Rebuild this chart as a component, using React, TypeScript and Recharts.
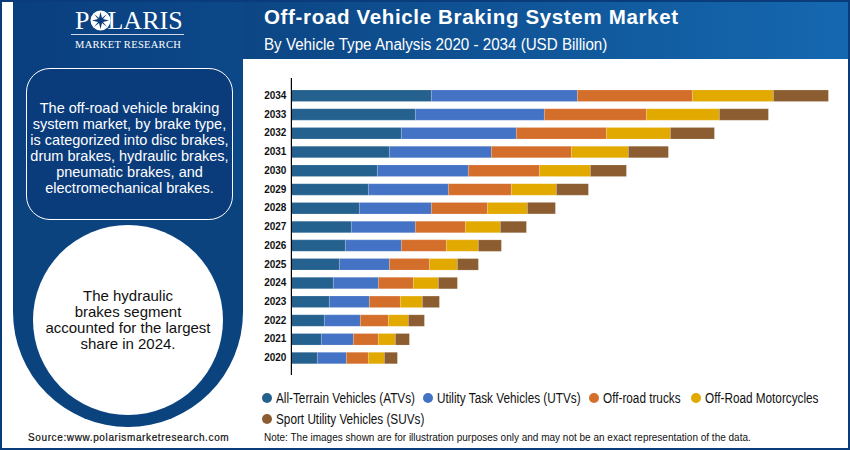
import { BarChart, Bar, XAxis, YAxis, Legend } from "recharts";

// years top to bottom, same order as the picture
const years = ["2034", "2033", "2032", "2031", "2030", "2029", "2028", "2027", "2026", "2025", "2024", "2023", "2022", "2021", "2020"];

// USD Billion (no value axis in the source)
const atvs = [1.40, 1.24, 1.10, 0.98, 0.86, 0.77, 0.68, 0.60, 0.54, 0.48, 0.42, 0.38, 0.33, 0.30, 0.26];
const utvs = [1.46, 1.29, 1.15, 1.02, 0.91, 0.80, 0.72, 0.64, 0.56, 0.50, 0.45, 0.40, 0.36, 0.32, 0.29];
const trucks = [1.15, 1.02, 0.90, 0.80, 0.71, 0.63, 0.56, 0.50, 0.45, 0.40, 0.35, 0.31, 0.28, 0.25, 0.22];
const motorcycles = [0.81, 0.73, 0.64, 0.57, 0.51, 0.45, 0.40, 0.35, 0.32, 0.28, 0.25, 0.22, 0.20, 0.17, 0.16];
const suvs = [0.55, 0.49, 0.44, 0.40, 0.36, 0.32, 0.28, 0.26, 0.23, 0.21, 0.19, 0.17, 0.16, 0.14, 0.13];

const seriesNames = ["All-Terrain Vehicles (ATVs)", "Utility Task Vehicles (UTVs)", "Off-road trucks", "Off-Road Motorcycles", "Sport Utility Vehicles (SUVs)"];
const seriesKeys = ["atvs", "utvs", "trucks", "motorcycles", "suvs"];
const seriesColors = ["#25618f", "#4472c4", "#d46e2b", "#e2a900", "#8b5d30"];

const data = years.map((year, i) => ({
  year,
  atvs: atvs[i],
  utvs: utvs[i],
  trucks: trucks[i],
  motorcycles: motorcycles[i],
  suvs: suvs[i],
}));

const NAVY = "#0a3c7c";
const SANS = "'Liberation Sans', Arial, sans-serif";
const SERIF = "'Liberation Serif', serif";

const abs = (left: number, top: number, width: number, height: number): React.CSSProperties => ({
  position: "absolute",
  left,
  top,
  width,
  height,
});

// legend positions follow the two rows of the source
const legendSpots = [
  { x: 262, y: 391 },
  { x: 423, y: 391 },
  { x: 589, y: 391 },
  { x: 691, y: 391 },
  { x: 262, y: 412 },
];

const ChartLegend = () => (
  <div style={abs(0, 0, 850, 0)}>
    {seriesNames.map((name, i) => (
      <div
        key={name}
        style={{
          position: "absolute",
          left: legendSpots[i].x,
          top: legendSpots[i].y,
          height: 14,
          display: "flex",
          alignItems: "center",
          whiteSpace: "nowrap",
          fontFamily: SANS,
          fontSize: 14,
          color: "#111",
        }}
      >
        <span
          style={{
            width: 10,
            height: 10,
            borderRadius: "50%",
            background: seriesColors[i],
            marginRight: 4,
            display: "inline-block",
          }}
        />
        {/* source uses a condensed face, none installed */}
        <span style={{ display: "inline-block", transform: "scaleX(0.84)", transformOrigin: "left center" }}>{name}</span>
      </div>
    ))}
  </div>
);

const Logo = () => (
  <div style={{ ...abs(60, 6, 136, 46), color: "#fff", fontFamily: SERIF }}>
    <div style={{ position: "absolute", left: 15, top: 0, fontSize: 26, letterSpacing: 0, lineHeight: "30px" }}>
      P<span style={{ display: "inline-block", width: 18 }} />LARIS
    </div>
    <svg style={{ position: "absolute", left: 30, top: 4, width: 21, height: 21 }} viewBox="0 0 21 21">
      <circle cx="10.5" cy="10.5" r="10" fill="#fff" />
      <polygon
        points="10.5,2 12,8 17,4 13,9 19,10.5 13,12 17,17 12,13 10.5,19 9,13 4,17 8,12 2,10.5 8,9 4,4 9,8"
        fill={NAVY}
      />
    </svg>
    <div style={{ position: "absolute", left: 11, top: 28, width: 113, height: 1, background: "#cfd9e8" }} />
    <div style={{ position: "absolute", left: 15, top: 32, fontSize: 10.5, letterSpacing: 0.3, whiteSpace: "nowrap", lineHeight: "13px" }}>
      MARKET RESEARCH
    </div>
  </div>
);

export default function App() {
  return (
    <div style={{ ...abs(0, 0, 850, 450), background: "#fff", overflow: "hidden" }}>
      {/* page frame and header */}
      <div style={{ ...abs(0, 0, 850, 60), background: "linear-gradient(90deg, #0a3f7f 0%, #0c4685 30%, #1568b0 100%)" }} />
      <div style={{ ...abs(13, 2, 230, 310), background: "linear-gradient(90deg, #0a3f7f, #0c4888)" }} />
      <div style={{ ...abs(13, 200, 230, 227), background: "#0b437f", borderRadius: "0 0 115px 115px" }} />
      <div style={{ ...abs(2, 2, 11, 446), background: "#fff" }} />
      <div style={{ ...abs(0, 0, 850, 2), background: NAVY }} />
      <div style={{ ...abs(0, 0, 2, 450), background: NAVY }} />
      <div style={{ ...abs(848, 0, 2, 450), background: NAVY }} />
      <div style={{ ...abs(0, 448, 850, 2), background: NAVY }} />
      <div style={{ ...abs(243, 59, 605, 389), background: "#fff" }} />

      <Logo />

      <div
        style={{
          ...abs(264, 5, 560, 24),
          fontFamily: SANS,
          fontWeight: 700,
          fontSize: 20.5,
          letterSpacing: 0.66,
          lineHeight: "24px",
          color: "#fff",
          whiteSpace: "nowrap",
        }}
      >
        Off-road Vehicle Braking System Market
      </div>
      <div
        style={{
          ...abs(264, 35, 560, 20),
          fontFamily: SANS,
          fontSize: 16,
          lineHeight: "20px",
          color: "#fff",
          whiteSpace: "nowrap",
          transform: "scaleX(0.947)",
          transformOrigin: "left center",
        }}
      >
        By Vehicle Type Analysis 2020 - 2034 (USD Billion)
      </div>

      {/* text box */}
      <div
        style={{
          ...abs(26, 68, 207, 152),
          boxSizing: "border-box",
          border: "1.5px solid #fff",
          borderRadius: 24,
          paddingTop: 8,
          background: "#0a3c7c",
          color: "#fff",
          fontFamily: SANS,
          fontSize: 14.5,
          lineHeight: "16px",
          textAlign: "center",
          display: "flex",
          alignItems: "center",
          justifyContent: "center",
          whiteSpace: "nowrap",
        }}
      >
        <div>
          The off-road vehicle braking
          <br />
          system market, by brake type,
          <br />
          is categorized into disc brakes,
          <br />
          drum brakes, hydraulic brakes,
          <br />
          pneumatic brakes, and
          <br />
          electromechanical brakes.
        </div>
      </div>

      {/* circle */}
      <div
        style={{
          ...abs(33, 225, 190, 190),
          borderRadius: "50%",
          background: "#fff",
          color: "#111",
          fontFamily: SANS,
          fontSize: 15,
          lineHeight: "16px",
          textAlign: "center",
          display: "flex",
          alignItems: "center",
          justifyContent: "center",
          whiteSpace: "nowrap",
        }}
      >
        <div>
          The hydraulic
          <br />
          brakes segment
          <br />
          accounted for the largest
          <br />
          share in 2024.
        </div>
      </div>

      <div
        style={{
          ...abs(28, 431, 210, 14),
          fontFamily: SANS,
          fontSize: 10,
          fontWeight: 400,
          letterSpacing: 0.62,
          lineHeight: "14px",
          color: "#111",
          whiteSpace: "nowrap",
          WebkitTextStroke: "0.2px #111",
        }}
      >
        Source:www.polarismarketresearch.com
      </div>
      <div
        style={{
          ...abs(264, 431, 560, 14),
          fontFamily: SANS,
          fontSize: 10,
          lineHeight: "14px",
          color: "#111",
          whiteSpace: "nowrap",
        }}
      >
        Note: The images shown are for illustration purposes only and may not be an exact representation of the data.
      </div>

      <div style={abs(0, 0, 850, 450)}>
        <BarChart
          width={850}
          height={450}
          data={data}
          layout="vertical"
          margin={{ top: 78, right: 8.6, bottom: 75, left: 250.7 }}
          barCategoryGap={0}
        >
          <XAxis type="number" hide domain={[0, 5.5]} />
          <YAxis
            type="category"
            dataKey="year"
            width={40.7}
            interval={0}
            padding={{ top: 8, bottom: 8 }}
            tickLine={false}
            tickSize={0}
            tickMargin={5}
            axisLine={{ stroke: "#000", strokeWidth: 1.2 }}
            tick={{ fontSize: 10, fontWeight: 700, fontFamily: SANS, fill: "#111" }}
          />
          <Legend content={<ChartLegend />} wrapperStyle={{ left: 0, top: 0, width: 850, height: 0 }} />
          {seriesKeys.map((key, i) => (
            <Bar
              key={key}
              dataKey={key}
              name={seriesNames[i]}
              stackId="a"
              fill={seriesColors[i]}
              barSize={11.5}
              stroke="#ffffff"
              strokeOpacity={0.25}
              strokeWidth={0.6}
              isAnimationActive={false}
            />
          ))}
        </BarChart>
      </div>
    </div>
  );
}
